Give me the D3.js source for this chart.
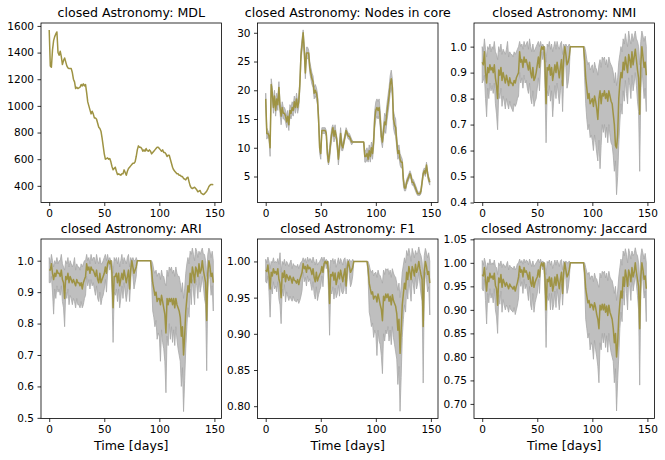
<!DOCTYPE html>
<html>
<head>
<meta charset="utf-8">
<script src="https://cdn.jsdelivr.net/npm/d3@7"></script>
<style>
  body { margin: 0; background: #fff; }
  svg { font-family: "DejaVu Sans", sans-serif; }
  .tick text { font-size: 10.5px; fill: #000; }
  .tick line { stroke: #000; stroke-width: 0.8; }
</style>
</head>
<body>
<svg id="chartsvg" width="665" height="460"></svg>
<script>
var vis = d3.select("#chartsvg");

const days = d3.range(150);
const xTicks = [0, 50, 100, 150];

const mdl = [1570,1300,1290,1420,1490,1520,1540,1555,1400,1380,
  1410,1370,1310,1340,1360,1330,1300,1285,1280,1280,
  1280,1250,1200,1180,1130,1140,1130,1135,1140,1160,
  1150,1165,1150,1160,1100,1030,1000,970,940,960,
  940,910,910,900,870,840,830,810,760,700,
  640,600,605,610,600,605,580,545,520,530,
  540,510,485,490,485,480,490,490,520,500,
  480,510,530,540,550,560,570,570,580,620,
  670,700,690,690,680,660,670,660,680,665,
  660,670,660,640,650,660,670,680,690,690,
  680,670,660,670,650,650,640,620,630,630,
  600,570,540,520,510,500,490,490,480,480,
  470,470,455,450,445,460,465,430,400,385,
  380,385,390,380,370,355,360,365,345,340,
  335,340,350,360,375,395,405,410,410,408];

const nodesMean = [18.5,12.5,12.5,12,10,21,19.5,17,19,16.5,
  18.5,17.5,20.5,17,15.5,17,16,16,15.5,14.5,
  15.5,14,16.5,16,17,16.5,18,17,18.5,17,
  18,21,26,28,30,27,23,26.5,26.5,26.5,
  24,23,22,21.5,19.5,20,19.5,18.5,15,10,
  9,13,13,13,13,12.5,9,7.5,9,11,
  12.5,13.5,12,13,12,10.5,8,10,12.5,10.5,
  10,11,12,13,12.5,12,12,11.5,11,11,
  11,11,11,11,11,11,11,11,11,11,
  8.5,8.5,9,8,9.5,8.5,10,9,11,15,
  16.5,17,16.5,17,15,12,11,13,14.5,14,
  16,17.5,19,21,22,20.5,15,14,13.5,11,
  9,9.5,8,7.5,7.5,4.5,3,3,4,4.5,
  5,5.5,5,4,4,3.5,3,2.5,2,2,
  2,2.5,4,5.5,6,5.5,7,5.5,4.5,4];
const nodesHi = [19.5,13.5,13,12.5,11,22,20.5,18,20,17.5,
  19.5,18.5,21.5,18,16.5,18,17,17,16.5,15.5,
  16.5,15,17.5,17,18,17.5,19,18,19.5,18,
  19,22,27,29,30.5,28,24,27.5,27.5,27,
  25,24,23,22.5,20.5,21,20.5,19.5,16,11,
  10,13.5,13.5,13.5,13.5,13,10,8.5,10,12,
  13.5,14,13,14,12.5,11.5,9,11,13.5,11.5,
  10.5,11.5,12.5,13.5,13,12.5,12.5,12,11.5,11.2,
  11,11,11,11,11,11,11,11,11,11,
  9.5,9.5,10,9,10.5,9.5,11,10,12,16.5,
  18,18.5,18,18.5,16.5,13,12,14,16,15.5,
  17.5,19,20.5,22.5,23.5,22,16.5,15.5,15,12,
  10,10.5,9,8.5,8,5,3.5,3.5,4.5,5,
  5.5,6,5.5,4.5,4.5,4,3.5,3,2.3,2.3,
  2.3,3,4.5,6,6.5,6,7.5,6,5,4.5];
const nodesLo = [17.5,11.5,12,11.5,8.5,20,18.5,16,18,15.5,
  17.5,16.5,19.5,16,14,16,15,15,14.5,13.5,
  14.5,13,15.5,15,16,15.5,17,16,17.5,16,
  17,20,25,27,29,26,22,25.5,25.5,25.5,
  23,22,21,20.5,18.5,19,18.5,17.5,14,9,
  8,12.5,12.5,12.5,12.5,12,8,7,8,10,
  11.5,13,11,12,11.5,9.5,7,9,11.5,9.5,
  9.5,10.5,11.5,12.5,12,11.5,11.5,11,10.5,10.8,
  11,11,11,11,11,11,11,11,11,11,
  7.5,7.5,8,7.5,8.5,7.5,9,8,10,13.5,
  15,15.5,15,15.5,13.5,11,10,12,13,12.5,
  14.5,16,17.5,19.5,20.5,19,13.5,12.5,12,10,
  8,8.5,7,6.5,6.5,3.5,2.5,2.5,3.5,4,
  4.5,5,4.5,3.5,3.5,3,2.5,2,1.7,1.7,
  1.7,2,3.5,5,5.5,5,6.5,5,4,3.5];

const nmiMean = [.94,.93,.98,.90,.86,.92,.90,.93,.91,.92,
  .90,.93,.88,.85,.80,.91,.89,.92,.87,.90,
  .88,.86,.89,.87,.85,.88,.86,.86,.85,.87,
  .86,.88,.89,.90,.98,.94,.95,.92,.96,.94,
  .95,.93,.91,.94,.90,.88,.92,.87,.88,.90,
  .93,.96,.92,.98,1,.99,1,.93,.78,.92,
  .91,.93,.89,.92,.87,.90,.93,.90,.94,.91,
  .88,.92,.95,.85,.96,1,.97,.93,.94,.96,
  1,1,1,1,1,1,1,1,1,1,
  1,1,1,.95,.88,.84,.80,.82,.78,.79,
  .80,.77,.81,.79,.76,.72,.80,.83,.78,.82,
  .81,.83,.80,.82,.79,.83,.81,.79,.78,.74,
  .70,.62,.61,.66,.80,.86,.90,.88,.94,.91,
  .96,.93,.90,.97,.95,.92,.98,.93,.96,.99,
  .95,.91,.88,.74,.93,1,.96,.92,.94,.89];
const nmiHi = [1,.98,1.03,.99,.96,1,.99,1.01,.98,1,
  .99,1.02,.98,.97,.95,1,.98,1.01,.97,.99,
  .98,.97,.99,1.02,.96,.98,.97,.97,.96,.98,
  .97,.98,.99,1,1.02,1,1.01,.99,1.02,1,
  1.01,1.02,.99,1.03,1,.98,1.01,.98,.99,1,
  1.01,1.02,1,1.02,1,1.01,1,1,.94,1.01,
  1,1.02,.99,1.01,.98,1,1.02,.99,1.02,1,
  .99,1.01,1.02,.97,1.01,1,1.01,1,1,1.01,
  1,1,1,1,1,1,1,1,1,1,
  1,1,1,1,.98,.95,.93,.94,.91,.92,
  .93,.90,.94,.92,.91,.89,.93,.95,.92,.96,
  .95,.96,.93,.95,.92,.96,.94,.93,.92,.90,
  .86,.90,.85,.88,.94,.97,1,.98,1.03,1.01,
  1.05,1.02,1,1.06,1.03,1.01,1.05,1.02,1.04,1.06,
  1.03,1.02,1,.93,1.02,1.06,1.04,1.02,1.04,1];
const nmiLo = [.86,.87,.89,.80,.73,.84,.80,.86,.83,.85,
  .82,.86,.78,.74,.68,.82,.80,.84,.77,.81,
  .79,.76,.80,.78,.76,.79,.77,.76,.75,.78,
  .77,.78,.80,.81,.90,.86,.88,.84,.89,.86,
  .87,.84,.82,.86,.80,.78,.83,.77,.79,.80,
  .84,.88,.83,.92,.98,.95,.98,.84,.63,.83,
  .81,.85,.79,.83,.73,.80,.85,.80,.86,.82,
  .78,.83,.87,.75,.88,.98,.92,.84,.86,.90,
  1,1,1,1,1,1,1,1,1,1,
  1,1,1,.88,.78,.72,.68,.70,.65,.66,
  .64,.60,.66,.63,.59,.56,.64,.53,.62,.70,
  .67,.70,.65,.69,.63,.70,.66,.63,.62,.58,
  .52,.56,.43,.50,.62,.71,.78,.74,.83,.79,
  .87,.82,.78,.88,.85,.80,.89,.83,.86,.90,
  .85,.79,.75,.52,.82,.92,.86,.80,.84,.75];

const ariMean = [.97,.97,.99,.96,.94,.96,.95,.97,.96,.96,
  .95,.97,.94,.93,.88,.95,.94,.96,.93,.95,
  .94,.93,.94,.93,.92,.94,.93,.93,.92,.93,
  .91,.93,.94,.95,.99,.97,.98,.96,.98,.97,
  .97,.96,.95,.97,.94,.93,.96,.93,.94,.95,
  .96,.98,.96,.99,1,.99,1,.96,.85,.95,
  .95,.96,.93,.96,.92,.94,.96,.94,.97,.95,
  .93,.95,.97,.91,.97,1,.98,.96,.97,.98,
  1,1,1,1,1,1,1,1,1,1,
  1,1,1,.97,.93,.91,.89,.90,.87,.88,
  .88,.86,.89,.87,.85,.83,.77,.88,.86,.88,
  .87,.88,.86,.88,.85,.88,.86,.85,.84,.82,
  .76,.79,.70,.76,.84,.88,.92,.90,.96,.93,
  .98,.96,.93,.98,.97,.95,.99,.96,.97,1,
  .97,.95,.93,.81,.96,1,.98,.95,.96,.93];
const ariHi = [1.01,.99,1.02,1,.98,1,.99,1.01,.99,1,
  1,1.02,.99,.98,.97,1,.99,1.01,.98,1,
  .99,.98,.99,1.01,.97,.99,.98,.98,.97,.99,
  .98,.99,1,1,1.02,1,1.01,.99,1.02,1,
  1.01,1.01,.99,1.02,1,.99,1.01,.99,.99,1,
  1.01,1.02,1,1.02,1,1.01,1,1,.96,1.01,
  1,1.01,.99,1.01,.98,1,1.02,.99,1.01,1,
  .99,1.01,1.02,.98,1.01,1,1.01,1,1,1.01,
  1,1,1,1,1,1,1,1,1,1,
  1,1,1,1,.99,.97,.96,.97,.95,.96,
  .96,.94,.97,.95,.95,.93,.92,.97,.95,.98,
  .97,.98,.96,.97,.95,.98,.96,.95,.95,.93,
  .90,.93,.88,.91,.96,.99,1.01,.99,1.03,1.02,
  1.04,1.02,1,1.04,1.03,1.01,1.03,1.02,1.03,1.04,
  1.02,1.02,1,.95,1.02,1.04,1.03,1.01,1.03,1];
const ariLo = [.93,.93,.95,.90,.83,.91,.88,.92,.90,.91,
  .89,.92,.87,.85,.79,.90,.88,.91,.86,.89,
  .88,.86,.88,.87,.85,.88,.86,.86,.85,.87,
  .85,.86,.88,.89,.95,.92,.94,.91,.94,.92,
  .93,.91,.89,.92,.88,.87,.90,.86,.88,.89,
  .91,.94,.90,.96,1,.97,.99,.90,.74,.90,
  .89,.91,.87,.91,.85,.88,.92,.88,.93,.90,
  .87,.90,.94,.87,.93,1,.95,.91,.93,.95,
  1,1,1,1,1,1,1,1,1,1,
  1,1,1,.93,.84,.82,.79,.81,.75,.77,
  .76,.68,.78,.74,.72,.68,.58,.76,.73,.80,
  .75,.79,.74,.78,.73,.79,.75,.72,.70,.68,
  .60,.66,.52,.62,.72,.79,.85,.82,.91,.86,
  .94,.90,.86,.94,.92,.88,.95,.90,.92,.95,
  .92,.88,.86,.65,.90,.97,.94,.89,.92,.84];

const f1Mean = [.988,.986,.995,.982,.962,.985,.98,.99,.984,.986,
  .982,.99,.975,.97,.95,.984,.978,.987,.972,.982,
  .978,.974,.98,.976,.97,.978,.974,.973,.97,.975,
  .968,.975,.98,.985,.997,.99,.993,.985,.995,.99,
  .992,.988,.982,.99,.978,.972,.985,.973,.978,.982,
  .985,.993,.985,.997,1,.997,1,.984,.942,.982,
  .98,.985,.974,.984,.968,.976,.985,.976,.988,.98,
  .972,.982,.99,.966,.99,1,.993,.985,.988,.992,
  1,1,1,1,1,1,1,1,1,1,
  1,1,1,.99,.97,.962,.955,.958,.948,.952,
  .952,.944,.955,.948,.94,.934,.918,.952,.946,.955,
  .95,.955,.945,.952,.94,.954,.946,.942,.938,.928,
  .905,.92,.873,.905,.94,.955,.97,.962,.985,.975,
  .993,.985,.975,.993,.988,.98,.996,.985,.99,1,
  .99,.982,.975,.91,.985,1,.993,.982,.986,.97];
const f1Hi = [1.003,.998,1.006,1,.99,1,.998,1.005,.998,1,
  .998,1.004,.996,1.012,.985,1,.996,1.003,.994,1,
  .997,.993,.998,1.002,.99,.997,.994,.994,.992,.996,
  .99,.995,.999,1,1.005,1,1.004,.998,1.006,1,
  1.004,1.003,.998,1.006,1,.995,1.003,.995,.998,1,
  1.003,1.006,1,1.006,1,1.003,1,1,.985,1.002,
  1,1.004,.997,1.003,.992,.998,1.005,.997,1.004,1,
  .995,1.003,1.005,.99,1.003,1,1.003,1,1,1.003,
  1,1,1,1,1,1,1,1,1,1,
  1,1,1,1,.995,.988,.985,.988,.98,.984,
  .985,.978,.988,.982,.98,.975,.97,.988,.982,.99,
  .988,.99,.982,.988,.978,.99,.984,.98,.978,.97,
  .96,.97,.95,.965,.985,.995,1.005,.998,1.015,1.008,
  1.018,1.01,1,1.018,1.012,1.005,1.015,1.01,1.012,1.02,
  1.012,1.008,1,.975,1.008,1.018,1.012,1.005,1.012,1];
const f1Lo = [.972,.97,.98,.958,.923,.965,.955,.972,.962,.966,
  .958,.972,.948,.94,.914,.962,.952,.968,.944,.958,
  .952,.946,.952,.948,.945,.952,.946,.945,.944,.948,
  .942,.946,.952,.96,.985,.972,.978,.966,.98,.972,
  .976,.968,.96,.972,.955,.948,.965,.946,.954,.96,
  .965,.98,.965,.99,1,.99,.997,.96,.898,.96,
  .955,.965,.948,.963,.95,.955,.967,.952,.97,.958,
  .955,.96,.975,.955,.975,1,.98,.965,.97,.98,
  1,1,1,1,1,1,1,1,1,1,
  1,1,1,.978,.93,.922,.91,.915,.895,.905,
  .9,.87,.905,.89,.885,.87,.845,.9,.89,.905,
  .9,.91,.89,.905,.885,.91,.895,.885,.875,.865,
  .83,.855,.793,.84,.895,.92,.94,.93,.962,.948,
  .975,.96,.945,.975,.968,.955,.98,.962,.97,.985,
  .97,.955,.945,.832,.96,.985,.975,.958,.965,.926];

const jacMean = [.975,.972,.99,.965,.94,.97,.96,.978,.968,.972,
  .965,.978,.952,.945,.91,.968,.958,.975,.948,.965,
  .958,.95,.958,.952,.945,.955,.95,.948,.944,.95,
  .94,.95,.958,.97,.993,.98,.985,.97,.99,.98,
  .983,.975,.965,.98,.958,.95,.97,.948,.958,.965,
  .97,.985,.97,.993,1,.993,1,.968,.9,.965,
  .96,.97,.95,.968,.94,.952,.97,.952,.975,.96,
  .945,.965,.98,.935,.98,1,.985,.97,.975,.985,
  1,1,1,1,1,1,1,1,1,1,
  1,1,1,.98,.945,.93,.915,.92,.905,.912,
  .91,.9,.915,.905,.89,.88,.86,.91,.9,.912,
  .9,.912,.895,.908,.888,.91,.895,.888,.88,.86,
  .83,.85,.8,.83,.885,.915,.94,.925,.97,.95,
  .985,.97,.95,.985,.975,.96,.99,.97,.98,1,
  .98,.965,.95,.86,.97,1,.985,.965,.972,.945];
const jacHi = [1.005,.995,1.01,1,.985,1,.996,1.008,.996,1,
  .996,1.006,.992,.99,.975,1,.994,1.004,.99,.998,
  .995,.99,.996,1.003,.985,.995,.99,.99,.986,.993,
  .985,.99,.998,1,1.008,1,1.005,.997,1.008,1,
  1.006,1.004,.996,1.008,1,.992,1.004,.992,.996,1,
  1.004,1.008,1,1.008,1,1.004,1,1,.975,1.003,
  1,1.006,.995,1.004,.988,.997,1.006,.995,1.006,1,
  .992,1.004,1.007,.985,1.004,1,1.004,1,1,1.004,
  1,1,1,1,1,1,1,1,1,1,
  1,1,1,1,.99,.98,.975,.98,.965,.972,
  .972,.96,.978,.968,.965,.955,.948,.978,.968,.982,
  .978,.982,.968,.978,.962,.982,.97,.965,.962,.95,
  .935,.95,.92,.94,.97,.99,1.008,.995,1.025,1.015,
  1.03,1.018,1,1.03,1.02,1.008,1.025,1.015,1.02,1.032,
  1.02,1.015,1,.96,1.015,1.03,1.02,1.008,1.02,1];
const jacLo = [.945,.94,.965,.92,.87,.935,.915,.945,.925,.935,
  .915,.945,.9,.885,.85,.932,.912,.94,.895,.922,
  .91,.9,.91,.905,.895,.91,.9,.898,.895,.905,
  .89,.9,.91,.925,.975,.95,.96,.935,.965,.945,
  .955,.94,.92,.95,.91,.9,.935,.895,.915,.925,
  .935,.965,.935,.985,1,.985,.995,.93,.82,.93,
  .92,.935,.9,.935,.9,.912,.94,.905,.945,.925,
  .9,.93,.955,.91,.95,1,.965,.935,.945,.965,
  1,1,1,1,1,1,1,1,1,1,
  1,1,1,.96,.88,.86,.84,.85,.815,.83,
  .825,.795,.835,.815,.8,.78,.745,.83,.815,.85,
  .83,.85,.82,.845,.81,.85,.825,.81,.8,.79,
  .745,.775,.685,.75,.8,.86,.895,.875,.94,.91,
  .965,.935,.9,.965,.95,.92,.975,.94,.955,.975,
  .955,.93,.9,.74,.935,.98,.96,.925,.94,.875];

const titles = ["closed Astronomy: MDL", "closed Astronomy: Nodes in core", "closed Astronomy: NMI",
  "closed Astronomy: ARI", "closed Astronomy: F1", "closed Astronomy: Jaccard"];

const panels = [
  { mean: mdl, yDomain: [275, 1622], yTicks: d3.range(400, 1601, 200), fmt: d3.format("d") },
  { mean: nodesMean, lo: nodesLo, hi: nodesHi, yDomain: [0.48, 31.7], yTicks: [5, 10, 15, 20, 25, 30], fmt: d3.format("d") },
  { mean: nmiMean, lo: nmiLo, hi: nmiHi, yDomain: [0.40, 1.091], yTicks: [0.4, 0.5, 0.6, 0.7, 0.8, 0.9, 1.0], fmt: d3.format(".1f") },
  { mean: ariMean, lo: ariLo, hi: ariHi, yDomain: [0.498, 1.069], yTicks: [0.5, 0.6, 0.7, 0.8, 0.9, 1.0], fmt: d3.format(".1f") },
  { mean: f1Mean, lo: f1Lo, hi: f1Hi, yDomain: [0.783, 1.031], yTicks: [0.80, 0.85, 0.90, 0.95, 1.00], fmt: d3.format(".2f") },
  { mean: jacMean, lo: jacLo, hi: jacHi, yDomain: [0.669, 1.0507], yTicks: [0.70, 0.75, 0.80, 0.85, 0.90, 0.95, 1.00, 1.05], fmt: d3.format(".2f") }
];

const colLeft = [41, 257.5, 474];
const rowTop = [23, 239];
const panelW = 180.5, panelH = 179.5;
const lineColor = "#9e9343";

function translate(x, y) { return "translate(" + x + "," + y + ")"; }

panels.forEach((p, i) => {
    let col = i % 3, row = Math.floor(i / 3);
    let g = vis.append("g").attr("transform", translate(colLeft[col], rowTop[row]));

    let x = d3.scaleLinear().domain([-7.45, 156.45]).range([0, panelW]);
    let y = d3.scaleLinear().domain(p.yDomain).range([panelH, 0]);

    let clip = "clip" + i;
    g.append("clipPath").attr("id", clip)
        .append("rect").attr("width", panelW).attr("height", panelH);
    let plot = g.append("g").attr("clip-path", "url(#" + clip + ")");

    if (p.lo) {
        let area = d3.area().x(d => x(d)).y0(d => y(p.lo[d])).y1(d => y(p.hi[d]));
        plot.append("path").datum(days)
            .attr("d", area)
            .attr("fill", "#bfbfbf")
            .attr("stroke", "#a8a8a8")
            .attr("stroke-width", 0.8);
    }

    let line = d3.line().x(d => x(d)).y(d => y(p.mean[d]));
    plot.append("path").datum(days)
        .attr("d", line)
        .attr("fill", "none")
        .attr("stroke", lineColor)
        .attr("stroke-width", 1.5)
        .attr("stroke-linejoin", "round");

    let xAxis = g.append("g").attr("transform", translate(0, panelH))
        .call(d3.axisBottom(x).tickValues(xTicks).tickSize(3.5).tickPadding(3.5));
    let yAxis = g.append("g")
        .call(d3.axisLeft(y).tickValues(p.yTicks).tickFormat(p.fmt).tickSize(3.5).tickPadding(3.5));
    xAxis.select(".domain").remove();
    yAxis.select(".domain").remove();
    xAxis.selectAll("text").attr("font-family", "DejaVu Sans");
    yAxis.selectAll("text").attr("font-family", "DejaVu Sans");

    g.append("rect")
        .attr("width", panelW).attr("height", panelH)
        .attr("fill", "none").attr("stroke", "#000").attr("stroke-width", 0.8);

    g.append("text")
        .attr("x", panelW / 2).attr("y", -6)
        .attr("text-anchor", "middle")
        .attr("font-size", "12.6px")
        .text(titles[i]);

    if (row == 1) {
        g.append("text")
            .attr("x", panelW / 2).attr("y", panelH + 31)
            .attr("text-anchor", "middle")
            .attr("font-size", "12.6px")
            .text("Time [days]");
    }
});
</script>
</body>
</html>
